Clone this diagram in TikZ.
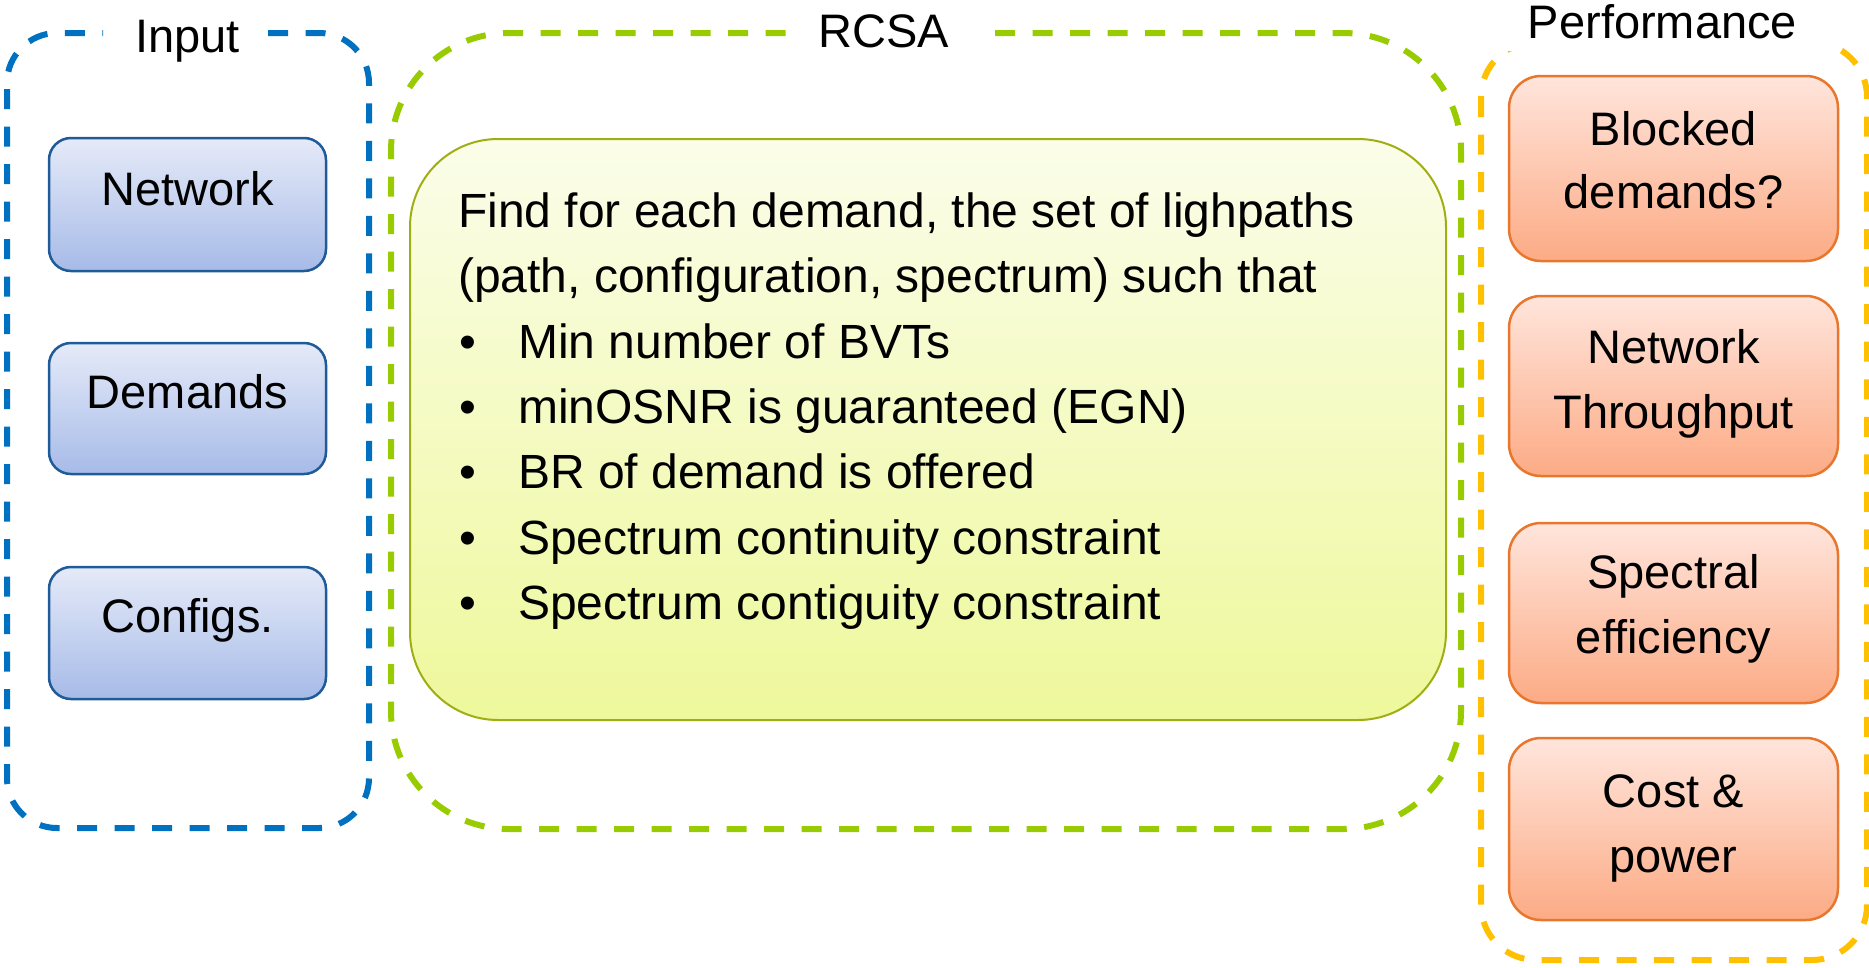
\documentclass[tikz,border=0pt]{standalone}
\usepackage{fontspec}
\setmainfont{Liberation Sans}
\definecolor{inblue}{HTML}{0070C0}
\definecolor{rgreen}{HTML}{99CC00}
\definecolor{pyellow}{HTML}{FFC000}
\definecolor{bline}{HTML}{1F5A99}
\definecolor{btop}{HTML}{E5EAF8}
\definecolor{bbot}{HTML}{A7BBE8}
\definecolor{oline}{HTML}{E8762D}
\definecolor{otop}{HTML}{FFE5DC}
\definecolor{obot}{HTML}{FCAB85}
\definecolor{yline}{HTML}{9FAE13}
\definecolor{ytop}{HTML}{FBFDE9}
\definecolor{ybot}{HTML}{EEF89B}
\begin{document}
\begin{tikzpicture}[x=1pt,y=-1pt,
  group/.style={line width=6pt, dash pattern=on 20pt off 17.5pt},
  inbox/.style={draw=bline, line width=2.5pt, rounded corners=22pt, top color=btop, bottom color=bbot, minimum width=277pt, inner sep=0pt},
  perfbox/.style={draw=oline, line width=2.5pt, rounded corners=32pt, top color=otop, bottom color=obot, minimum width=329pt, inner sep=0pt},
  lbl/.style={font=\fontsize{47}{65}\selectfont, inner sep=0pt, anchor=base},
  body/.style={font=\fontsize{48}{65}\selectfont, inner sep=0pt, anchor=base west},
  bul/.style={font=\fontsize{48}{65}\selectfont, inner sep=0pt, anchor=base west}
]
\useasboundingbox (0,0) rectangle (1869,967);

% group frames
\draw[group, inblue, rounded corners=50pt] (268,33) -- (369,33) -- (369,828) -- (7,828) -- (7,33) -- (103,33);
\draw[group, rgreen, rounded corners=118pt] (995,33) -- (1461,33) -- (1461,829) -- (391,829) -- (391,33) -- (797,33);
\draw[group, pyellow, rounded corners=55pt] (1481,42) rectangle (1867,960);
\fill[white] (1499,28) rectangle (1839,51);

% titles
\node[lbl] (tin) at (187.5,52) {Input};
\node[lbl] (trc) at (884,47) {RCSA};
\node[lbl] (tpf) at (1662.5,38) {Performance};

% input boxes
\node[inbox, minimum height=133pt] (net) at (187.5,204.5) {};
\node[inbox, minimum height=131pt] (dem) at (187.5,408.5) {};
\node[inbox, minimum height=132pt] (cfg) at (187.5,633) {};
\node[lbl] (netl) at (187.5,205) {Network};
\node[lbl] (deml) at (187.5,408) {Demands};
\node[lbl] (cfgl) at (187.5,632) {Configs.};

% RCSA box
\node[draw=yline, line width=2pt, rounded corners=88pt, top color=ytop, bottom color=ybot,
      minimum width=1036pt, minimum height=581pt, inner sep=0pt] (rcsa) at (928,429.5) {};
\node[body] (r1) at (458,227) {Find for each demand, the set of lighpaths};
\node[body] (r2) at (458,292) {(path, configuration, spectrum) such that};
\node[bul] (r3) at (459,358) {\makebox[59pt][l]{\textbullet}Min number of BVTs};
\node[bul] (r4) at (459,423) {\makebox[59pt][l]{\textbullet}minOSNR is guaranteed (EGN)};
\node[bul] (r5) at (459,488) {\makebox[59pt][l]{\textbullet}BR of demand is offered};
\node[bul] (r6) at (459,554) {\makebox[59pt][l]{\textbullet}Spectrum continuity constraint};
\node[bul] (r7) at (459,619) {\makebox[59pt][l]{\textbullet}Spectrum contiguity constraint};

% performance boxes
\node[perfbox, minimum height=185pt] (blk) at (1673.5,168.5) {};
\node[perfbox, minimum height=180pt] (thr) at (1673.5,386) {};
\node[perfbox, minimum height=180pt] (spe) at (1673.5,613) {};
\node[perfbox, minimum height=182pt] (cst) at (1673.5,829) {};
\node[lbl] (blk1) at (1673.5,145) {Blocked};
\node[lbl] (blk2) at (1673.5,208) {demands?};
\node[lbl] (thr1) at (1673.5,363) {Network};
\node[lbl] (thr2) at (1673.5,428) {Throughput};
\node[lbl] (spe1) at (1673.5,588) {Spectral};
\node[lbl] (spe2) at (1673.5,653) {efficiency};
\node[lbl] (cst1) at (1673.5,807) {Cost \&};
\node[lbl] (cst2) at (1673.5,872) {power};
\end{tikzpicture}
\end{document}
